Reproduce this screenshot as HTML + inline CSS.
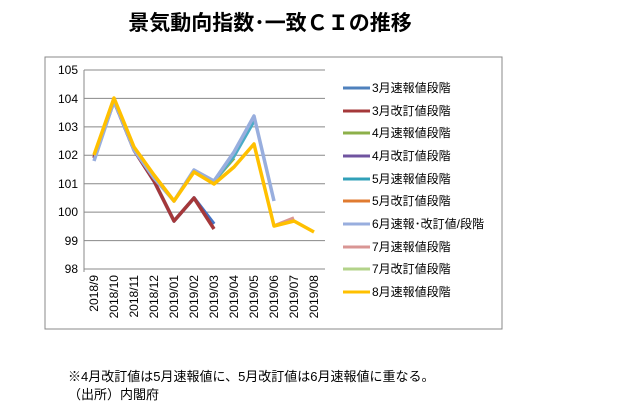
<!DOCTYPE html><html><head><meta charset="utf-8"><style>body{margin:0;background:#fff}svg{display:block}text{font-family:"Liberation Sans","Noto Sans CJK JP",sans-serif}</style></head><body>
<svg width="631" height="415" xmlns="http://www.w3.org/2000/svg">
<text x="270" y="30" text-anchor="middle" font-size="21" font-weight="bold" fill="#000">景気動向指数･一致ＣＩの推移</text>
<rect x="45" y="57" width="457" height="272" fill="#fff" stroke="#888" stroke-width="1"/>
<g stroke="#888" stroke-width="1">
<line x1="84" y1="70" x2="325" y2="70"/><line x1="84" y1="98.4" x2="325" y2="98.4"/><line x1="84" y1="126.9" x2="325" y2="126.9"/><line x1="84" y1="155.3" x2="325" y2="155.3"/><line x1="84" y1="183.7" x2="325" y2="183.7"/><line x1="84" y1="212.1" x2="325" y2="212.1"/><line x1="84" y1="240.6" x2="325" y2="240.6"/><line x1="84" y1="269" x2="325" y2="269"/>
<line x1="84" y1="70" x2="84" y2="272"/>
</g>
<g font-size="12" text-anchor="end" fill="#000">
<text x="78" y="74">105</text><text x="78" y="103">104</text><text x="78" y="131">103</text><text x="78" y="159">102</text><text x="78" y="188">101</text><text x="78" y="216">100</text><text x="78" y="245">99</text><text x="78" y="273">98</text>
</g>
<g font-size="12" text-anchor="end" fill="#000">
<text transform="translate(98,275) rotate(-90)">2018/9</text><text transform="translate(118,275) rotate(-90)">2018/10</text><text transform="translate(138,275) rotate(-90)">2018/11</text><text transform="translate(158,275) rotate(-90)">2018/12</text><text transform="translate(178,275) rotate(-90)">2019/01</text><text transform="translate(198,275) rotate(-90)">2019/02</text><text transform="translate(218,275) rotate(-90)">2019/03</text><text transform="translate(238,275) rotate(-90)">2019/04</text><text transform="translate(258,275) rotate(-90)">2019/05</text><text transform="translate(278,275) rotate(-90)">2019/06</text><text transform="translate(298,275) rotate(-90)">2019/07</text><text transform="translate(318,275) rotate(-90)">2019/08</text>
</g>
<g fill="none" stroke-width="3.5" stroke-linejoin="round">
<polyline stroke="#4472c4" points="94,158 114,101 134,150 154,181 174,221 194,198 214,224"/>
<polyline stroke="#a5383a" points="94,158 114,101 134,150 154,181 174,221 194,198 214,229"/>
<polyline stroke="#8db04a" points="214,181 234,158"/>
<polyline stroke="#4bacc6" points="214,181 234,156 254,121"/>
<polyline stroke="#d99694" points="274,226 294,218"/>
<polyline stroke="#98aede" points="94,161 114,101 134,150 154,178 174,201 194,170 214,181 234,152 254,116 274,201"/>
<polyline stroke="#ffc000" points="94,155 114,98 134,147 154,175 174,201 194,172 214,184 234,167 254,144 274,226 294,221 314,232"/>
</g>
<g stroke-width="3">
<line x1="343" y1="88" x2="370" y2="88" stroke="#4f81bd"/>
<line x1="343" y1="111" x2="370" y2="111" stroke="#a5383a"/>
<line x1="343" y1="133" x2="370" y2="133" stroke="#8db04a"/>
<line x1="343" y1="156" x2="370" y2="156" stroke="#7054a0"/>
<line x1="343" y1="179" x2="370" y2="179" stroke="#31a0b8"/>
<line x1="343" y1="201" x2="370" y2="201" stroke="#e07b30"/>
<line x1="343" y1="224" x2="370" y2="224" stroke="#98aede"/>
<line x1="343" y1="247" x2="370" y2="247" stroke="#d99694"/>
<line x1="343" y1="269" x2="370" y2="269" stroke="#b3d38a"/>
<line x1="343" y1="292" x2="370" y2="292" stroke="#ffc000"/>
</g>
<g font-size="12" fill="#000">
<text x="372" y="92">3月速報値段階</text><text x="372" y="115">3月改訂値段階</text><text x="372" y="137">4月速報値段階</text><text x="372" y="160">4月改訂値段階</text><text x="372" y="183">5月速報値段階</text><text x="372" y="205">5月改訂値段階</text><text x="372" y="228">6月速報･改訂値/段階</text><text x="372" y="251">7月速報値段階</text><text x="372" y="273">7月改訂値段階</text><text x="372" y="296">8月速報値段階</text>
</g>
<g font-size="13" fill="#000">
<text x="68" y="381">※4月改訂値は5月速報値に、5月改訂値は6月速報値に重なる。</text>
<text x="68" y="399">（出所）内閣府</text>
</g>
</svg></body></html>
